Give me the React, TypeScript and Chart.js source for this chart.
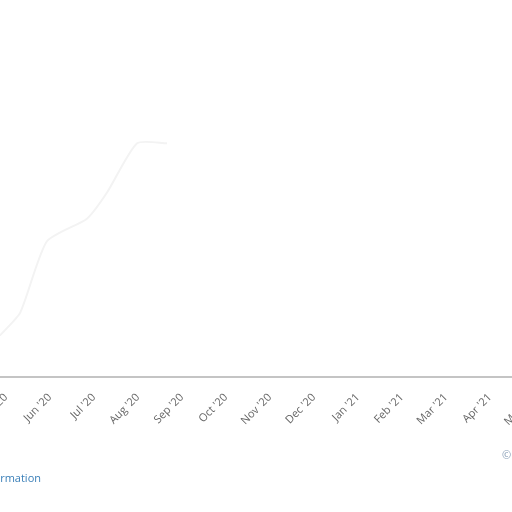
import React, { useEffect, useRef } from 'react';
import { Chart, registerables } from 'chart.js';

Chart.register(...registerables);

// month ticks, index 0 = May '20
const monthLabels = [
  "May '20", "Jun '20", "Jul '20", "Aug '20", "Sep '20", "Oct '20", "Nov '20",
  "Dec '20", "Jan '21", "Feb '21", "Mar '21", "Apr '21", "May '21", "Jun '21",
];

// faint series, x in months since May '20
const seriesX = [-0.14, 0.32, 0.93, 1.84, 2.3, 2.98, 3.66];
const seriesY = [11, 17, 36, 42, 49, 62, 62];

const App: React.FC = () => {
  const canvasRef = useRef<HTMLCanvasElement | null>(null);
  const chartRef = useRef<Chart | null>(null);

  useEffect(() => {
    if (!canvasRef.current) return;
    const ctx = canvasRef.current.getContext('2d');
    if (!ctx) return;

    chartRef.current = new Chart(ctx, {
      type: 'line',
      data: {
        datasets: [
          {
            data: seriesX.map((x, i) => ({ x, y: seriesY[i] })),
            borderColor: '#f3f3f3',
            borderWidth: 2,
            pointRadius: 0,
            tension: 0.2,
            fill: false,
          },
        ],
      },
      options: {
        animation: false,
        responsive: true,
        maintainAspectRatio: false,
        layout: { padding: 0 },
        plugins: {
          legend: { display: false },
          tooltip: { enabled: false },
        },
        scales: {
          x: {
            type: 'linear',
            min: -6 / 44,
            max: 594 / 44,
            grid: { display: false },
            border: { display: true, color: '#c4c4c4', width: 2 },
            afterBuildTicks: (scale) => {
              scale.ticks = monthLabels.map((_, i) => ({ value: i }));
            },
            ticks: {
              autoSkip: false,
              minRotation: 45,
              maxRotation: 45,
              padding: 6,
              color: '#666',
              font: { family: 'Open Sans', size: 11 },
              callback: (v) => monthLabels[Number(v)] ?? '',
            },
            afterFit: (scale) => {
              scale.paddingLeft = 0;
              scale.paddingRight = 0;
              scale.height = 135;
            },
          },
          y: {
            display: false,
            min: 0,
            max: 100,
          },
        },
      },
    });

    return () => {
      chartRef.current?.destroy();
    };
  }, []);

  return (
    <div style={{ position: 'fixed', left: 0, top: 0, width: 512, height: 512, overflow: 'hidden', background: '#fff' }}>
      <div style={{ position: 'absolute', left: 0, top: 0, width: 600, height: 512 }}>
        <canvas ref={canvasRef} />
      </div>
      <a
        style={{
          position: 'absolute', right: 471, top: 470, whiteSpace: 'nowrap',
          fontFamily: 'Open Sans', fontSize: 11, color: '#3a7fb8', textDecoration: 'none',
        }}
      >
        More information
      </a>
      <span
        style={{
          position: 'absolute', left: 502, top: 447, whiteSpace: 'nowrap',
          fontFamily: 'Open Sans', fontSize: 11, color: '#8aa0b8',
        }}
      >
        © Source
      </span>
    </div>
  );
};

export default App;
